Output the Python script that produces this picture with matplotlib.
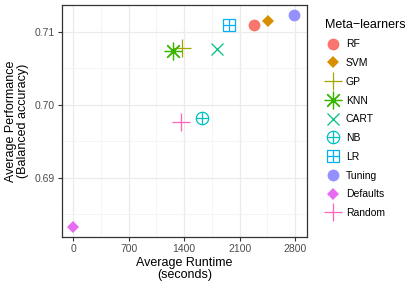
import matplotlib
matplotlib.use("Agg")
import matplotlib.pyplot as plt
from matplotlib.lines import Line2D
from matplotlib.ticker import MultipleLocator

plt.rcParams['font.family'] = ['Liberation Sans', 'DejaVu Sans']

# === datos ===
learners = ['RF', 'SVM', 'GP', 'KNN', 'CART', 'NB', 'LR', 'Tuning', 'Defaults', 'Random']
runtime = [2283, 2456, 1371, 1265, 1812, 1623, 1968, 2791, 0, 1358]
performance = [0.7110, 0.7115, 0.7078, 0.7074, 0.7077, 0.6982, 0.7109, 0.7123, 0.6833, 0.6977]
colors = ['#F8766D', '#D89000', '#A3A500', '#39B600', '#00BF7D',
          '#00BFC4', '#00B0F6', '#9590FF', '#E76BF3', '#FF62BC']
x_ticks = [0, 700, 1400, 2100, 2800]
y_ticks = [0.69, 0.70, 0.71]

# estilo de marcador (tipo ggplot pch)
ms = 8.5
def marker_parts(name, c):
    if name in ('RF', 'Tuning'):
        return [dict(marker='o', markersize=ms, color=c, markeredgewidth=0)]
    if name in ('SVM', 'Defaults'):
        return [dict(marker='D', markersize=ms * 0.72, color=c, markeredgewidth=0)]
    if name in ('GP', 'Random'):
        return [dict(marker='+', markersize=ms * 1.6, color=c, markeredgewidth=0.9)]
    if name == 'KNN':
        return [dict(marker=(8, 2, 0), markersize=ms * 1.5, color=c, markeredgewidth=0.9),
                dict(marker='o', markersize=2.5, color=c, markeredgewidth=0)]
    if name == 'CART':
        return [dict(marker='x', markersize=ms * 1.1, color=c, markeredgewidth=0.9)]
    if name == 'NB':
        return [dict(marker='o', markersize=ms * 1.05, markerfacecolor='none', markeredgecolor=c, markeredgewidth=0.9, color=c),
                dict(marker='+', markersize=ms * 1.05, color=c, markeredgewidth=0.9)]
    if name == 'LR':
        return [dict(marker='s', markersize=ms * 1.05, markerfacecolor='none', markeredgecolor=c, markeredgewidth=0.9, color=c),
                dict(marker='+', markersize=ms * 1.05, color=c, markeredgewidth=0.9)]

fig = plt.figure(figsize=(4.16, 2.87), dpi=100)
ax = fig.add_axes([0.149, 0.174, 0.589, 0.809])

handles = []
for name, xv, yv, c in zip(learners, runtime, performance, colors):
    parts = marker_parts(name, c)
    hs = []
    for p in parts:
        ax.plot([xv], [yv], linestyle='none', zorder=3, **p)
        hs.append(Line2D([], [], linestyle='none', **p))
    handles.append(tuple(hs) if len(hs) > 1 else hs[0])

ax.set_xlim(-140, 2950)
ax.set_ylim(0.6819, 0.7137)
ax.set_xticks(x_ticks)
ax.set_xticklabels([str(t) for t in x_ticks])
ax.set_yticks(y_ticks)
ax.set_yticklabels(['0.69', '0.70', '0.71'])
ax.xaxis.set_minor_locator(MultipleLocator(350))
ax.yaxis.set_minor_locator(MultipleLocator(0.005))

ax.grid(True, which='major', color='#EBEBEB', linewidth=0.9, zorder=0)
ax.grid(True, which='minor', color='#F2F2F2', linewidth=0.5, zorder=0)
ax.set_axisbelow(True)
for s in ax.spines.values():
    s.set_color('#333333')
    s.set_linewidth(0.9)
ax.tick_params(which='major', length=3, width=0.8, color='#333333', labelsize=7.5, labelcolor='#4D4D4D', pad=2)
ax.tick_params(which='minor', length=0)

ax.set_xlabel('Average Runtime\n(seconds)', fontsize=9, labelpad=2, linespacing=1.0)
ax.set_ylabel('Average Performance\n(Balanced accuracy)', fontsize=9, labelpad=4, linespacing=1.0)

leg = fig.legend(handles, learners, title='Meta\u2212learners', loc='upper left',
                 bbox_to_anchor=(0.771, 0.95), frameon=False, fontsize=7.5, title_fontsize=9,
                 labelspacing=0.84, handlelength=1.6, handletextpad=0.4, borderaxespad=0)
leg._legend_box.align = 'left'

fig.savefig('out.png', dpi=100)
